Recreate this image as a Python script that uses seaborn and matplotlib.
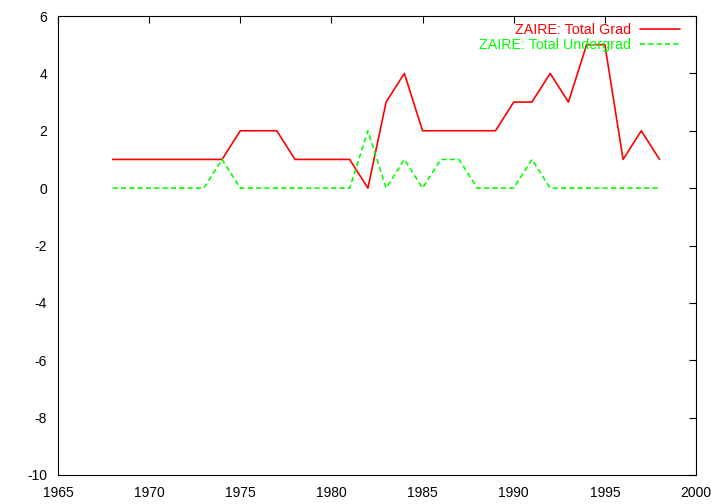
import matplotlib
matplotlib.use('Agg')
import matplotlib.pyplot as plt
import seaborn as sns
import pandas as pd

# data
years = list(range(1968, 1999))
grad = [1, 1, 1, 1, 1, 1, 1, 2, 2, 2, 1, 1, 1, 1, 0, 3, 4, 2, 2, 2, 2, 2, 3, 3, 4, 3, 5, 5, 1, 2, 1]
undergrad = [0, 0, 0, 0, 0, 0, 1, 0, 0, 0, 0, 0, 0, 0, 2, 0, 1, 0, 1, 1, 0, 0, 0, 1, 0, 0, 0, 0, 0, 0, 0]

df = pd.DataFrame({'year': years, 'grad': grad, 'undergrad': undergrad})

sns.set_style('white')
plt.rcParams['font.family'] = ['Liberation Sans', 'DejaVu Sans']
plt.rcParams['axes.unicode_minus'] = False

fig = plt.figure(figsize=(7.2, 5.04), dpi=100)
ax = fig.add_axes([58 / 720, 1 - 475 / 504, (696 - 58) / 720, (475 - 16) / 504])

sns.lineplot(x='year', y='grad', data=df, ax=ax, color='#ff0000', linewidth=1.2,
             label='ZAIRE: Total Grad')
sns.lineplot(x='year', y='undergrad', data=df, ax=ax, color='#00ff00', linewidth=1.2,
             linestyle=(0, (3, 2)), label='ZAIRE: Total Undergrad')

ax.set_xlim(1965, 2000)
ax.set_ylim(-10, 6)
ax.set_xticks(range(1965, 2001, 5))
ax.set_yticks(range(-10, 7, 2))
ax.set_xlabel('')
ax.set_ylabel('')
ax.tick_params(direction='in', length=5, width=0.8, top=True, right=True,
               labelsize=10, colors='black')
ax.tick_params(axis='x', pad=8)
ax.tick_params(axis='y', pad=8)
for s in ax.spines.values():
    s.set_color('black')
    s.set_linewidth(0.8)

leg = ax.legend(loc='upper right', bbox_to_anchor=(0.975, 0.984), frameon=False,
                markerfirst=False, fontsize=10.3, handlelength=2.8, borderpad=0,
                borderaxespad=0, labelspacing=0.08, handletextpad=0.6)
for txt, line in zip(leg.get_texts(), leg.get_lines()):
    txt.set_color(line.get_color())

fig.savefig('out.png', dpi=100)
